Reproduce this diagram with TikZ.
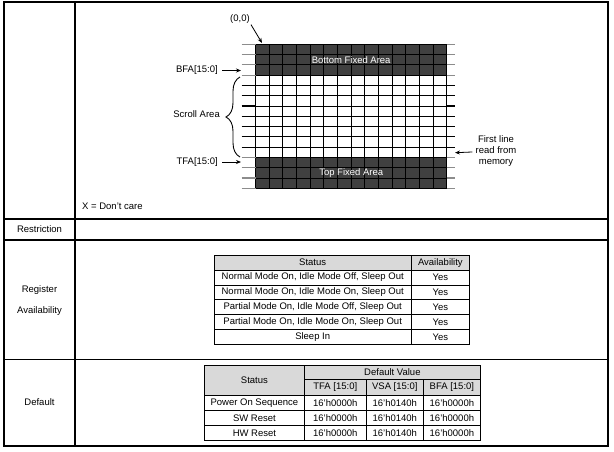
\documentclass[tikz,border=0pt]{standalone}
\usepackage{fontspec}
\setmainfont{Liberation Sans}
\usepackage{tikz}
\usetikzlibrary{arrows.meta, positioning, decorations.pathreplacing}
\tikzset{
  frameline/.style={line width=1.4pt, draw=black},
  cellline/.style={line width=0.8pt, draw=black},
  gridline/.style={line width=1pt, draw=black},
  extline/.style={line width=1.2pt},
  darkarea/.style={fill=black!75},
  hdrfill/.style={fill=black!15},
  txt/.style={font=\fontsize{9.5}{11.2}\selectfont, inner sep=1pt},
  areatxt/.style={txt, text=white},
  ptr/.style={-{Stealth[length=5pt,width=4pt]}, line width=0.8pt},
}

\begin{document}
\begin{tikzpicture}[x=1pt,y=-1pt]
  \useasboundingbox (0,0) rectangle (614,451);

  % outer frame and rows
  \draw[frameline] (4,2) rectangle (608,446);
  \draw[frameline] (75,2) -- (75,446);
  \draw[frameline] (4,219) -- (608,219);
  \draw[frameline] (4,240) -- (608,240);
  \draw[frameline] (4,359.3) -- (608,359.3);

  % memory grid
  \fill[darkarea] (255.7,44.3) rectangle (446.7,75.2);
  \fill[darkarea] (255.7,157.4) rectangle (446.7,188.3);
  \foreach \i in {0,...,14}
    \draw[gridline] ({255.7+13.643*\i},44.3) -- ++(0,144);
  \foreach \j in {0,...,14}{
    \pgfmathsetmacro\yy{44.3+10.286*\j}
    \ifnum\j<4 \def\ec{black!45}\else\ifnum\j>10 \def\ec{black!45}\else\def\ec{black}\fi\fi
    \draw[gridline] (255.7,\yy) -- (446.7,\yy);
    \draw[extline,draw=\ec] (241.7,\yy) -- (255.7,\yy) (446.7,\yy) -- (455,\yy);
  }
  \node[areatxt] (bfarea) at (351.2,59.7) {Bottom Fixed Area};
  \node[areatxt] (tfarea) at (351.2,172.9) {Top Fixed Area};

  \coordinate (corner)  at (262,43);
  \coordinate (bfapt)   at (241,70.5);
  \coordinate (tfapt)   at (241,162);
  \coordinate (firstpt) at (455,152.7);

  \node[txt]              (orig)   at (240,19)    {(0,0)};
  \node[txt, anchor=east] (bfa)    at (219,70.5)  {BFA[15:0]};
  \node[txt, anchor=east] (scroll) at (221,114)   {Scroll Area};
  \node[txt, anchor=east] (tfa)    at (219,162)   {TFA[15:0]};
  \node[txt, align=center] (first) at (496,151)   {First line\\read from\\memory};
  \node[txt, anchor=west] (dontcare) at (81,206.7) {X = Don't care};

  \draw[ptr] (orig.south east) -- (corner);
  \draw[ptr, shorten <=3pt] (bfa) -- (bfapt);
  \draw[ptr, shorten <=3pt] (tfa) -- (tfapt);
  \draw[ptr, shorten <=2pt] (first) -- (firstpt);
  \draw[gridline, line width=0.9pt, decorate, decoration={brace, amplitude=14pt}] (240,157) -- (240,77);

  % left column
  \node[txt] (restr) at (39.5,229.5) {Restriction};
  \node[txt] (reg)   at (39.5,290)   {Register};
  \node[txt, below=10pt of reg] (avail) {Availability};
  \node[txt] (deflt) at (39.5,402)   {Default};

  % availability table
  \fill[hdrfill] (214.3,255) rectangle (469.7,270);
  \draw[cellline] (214.3,255) rectangle (469.7,344.3);
  \draw[cellline] (411,255) -- (411,344.3);
  \foreach \y in {270,285,299.3,314.3,329.3}
    \draw[cellline] (214.3,\y) -- (469.7,\y);
  \node[txt] (sthead) at (312.7,262.6) {Status};
  \node[txt] (avhead) at (440.4,262.6) {Availability};
  \foreach \t [count=\k] in {{Normal Mode On, Idle Mode Off, Sleep Out},
      {Normal Mode On, Idle Mode On, Sleep Out},
      {Partial Mode On, Idle Mode Off, Sleep Out},
      {Partial Mode On, Idle Mode On, Sleep Out},
      {Sleep In}}{
    \node[txt] (st\k) at (312.7,{262.6+14.86*\k}) {\t};
    \node[txt] (av\k) at (440.4,{262.6+14.86*\k}) {Yes};
  }

  % default value table
  \fill[hdrfill] (204.3,365.7) rectangle (480.2,395);
  \draw[cellline] (204.3,365.7) rectangle (480.2,440);
  \draw[cellline] (304.5,365.7) -- (304.5,440);
  \draw[cellline] (366,379.3) -- (366,440);
  \draw[cellline] (423.5,379.3) -- (423.5,440);
  \draw[cellline] (304.5,379.3) -- (480.2,379.3);
  \foreach \y in {395,410.7,425.7}
    \draw[cellline] (204.3,\y) -- (480.2,\y);
  \node[txt] (dsthead) at (254.4,380.4) {Status};
  \node[txt] (dvhead)  at (392.4,372.5) {Default Value};
  \node[txt] (tfahead) at (335.3,387.2) {TFA [15:0]};
  \node[txt] (vsahead) at (394.8,387.2) {VSA [15:0]};
  \node[txt] (bfahead) at (451.9,387.2) {BFA [15:0]};
  \foreach \t [count=\k] in {Power On Sequence, SW Reset, HW Reset}{
    \node[txt] (ds\k)  at (254.4,{387.6+15.1*\k}) {\t};
    \node[txt] (tfa\k) at (335.3,{387.6+15.1*\k}) {16'h0000h};
    \node[txt] (vsa\k) at (394.8,{387.6+15.1*\k}) {16'h0140h};
    \node[txt] (bfa\k) at (451.9,{387.6+15.1*\k}) {16'h0000h};
  }
\end{tikzpicture}
\end{document}
